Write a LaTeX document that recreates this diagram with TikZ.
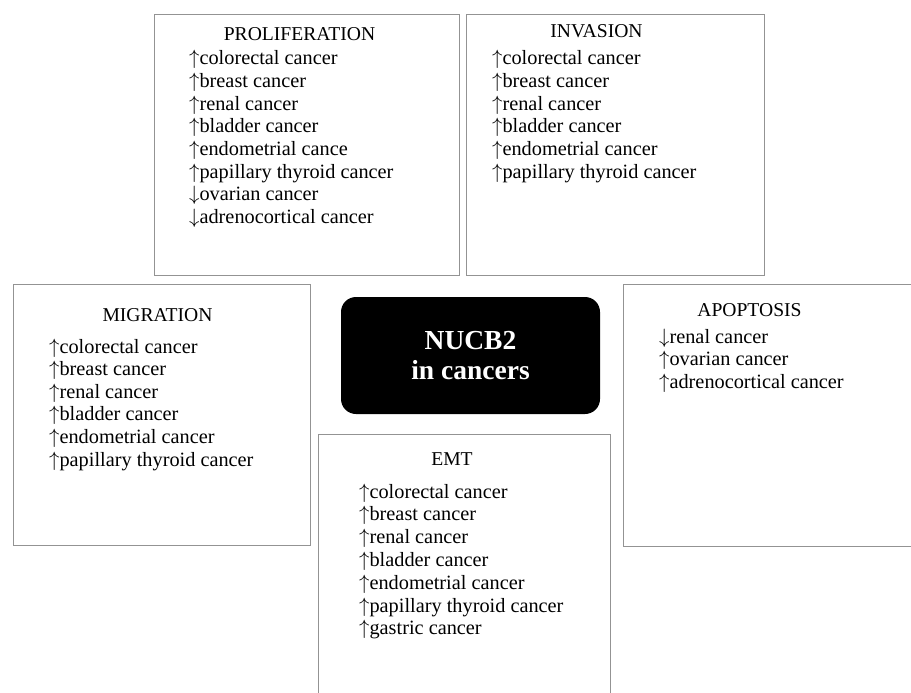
\documentclass[tikz,border=0pt]{standalone}
\usepackage{fontspec}
\setmainfont{Liberation Serif}
\newcommand\arup{$\uparrow$}
\newcommand\ardn{$\downarrow$}
\tikzset{
  panel/.style={draw=gray!85, line width=0.9pt, inner sep=0pt, anchor=north west},
  heading/.style={anchor=base, inner sep=0pt, font=\fontsize{19.6}{22.6}\selectfont},
  item/.style={anchor=base west, inner sep=0pt, font=\fontsize{20.3}{22.6}\selectfont},
  hub/.style={fill=black, text=white, rounded corners=15pt, inner sep=0pt,
    align=center, font=\fontsize{27.5}{30}\selectfont\bfseries}
}
\begin{document}
\begin{tikzpicture}[x=1pt,y=-1pt]
\useasboundingbox (0,0) rectangle (911,693);
% panels
\node[panel, minimum width=305, minimum height=261] (prolif) at (154,14) {};
\node[panel, minimum width=298, minimum height=261] (invas) at (466,14) {};
\node[panel, minimum width=297, minimum height=261] (migr) at (13,284) {};
\node[panel, minimum width=300, minimum height=262] (apop) at (623,284) {};
\node[panel, minimum width=292, minimum height=280] (emt) at (318,434) {};
% hub
\node[hub, minimum width=259, minimum height=117] (hub) at (470.5,355.5) {NUCB2\\in cancers};
% headings
\node[heading] (tprolif) at (299.5,40.5) {PROLIFERATION};
\node[heading] (tinvas) at (596.5,37.5) {INVASION};
\node[heading] (tmigr) at (157.5,321) {MIGRATION};
\node[heading] (tapop) at (749.5,316) {APOPTOSIS};
\node[heading] (temt) at (452,465) {EMT};
% items
\foreach \t [count=\i] in {{\arup colorectal cancer},{\arup breast cancer},{\arup renal cancer},{\arup bladder cancer},{\arup endometrial cance},{\arup papillary thyroid cancer},{\ardn ovarian cancer},{\ardn adrenocortical cancer}}
  \node[item] (p\i) at (189,{65+22.6*(\i-1)}) {\t};
\foreach \t [count=\i] in {{\arup colorectal cancer},{\arup breast cancer},{\arup renal cancer},{\arup bladder cancer},{\arup endometrial cancer},{\arup papillary thyroid cancer}}
  \node[item] (v\i) at (492,{65+22.6*(\i-1)}) {\t};
\foreach \t [count=\i] in {{\arup colorectal cancer},{\arup breast cancer},{\arup renal cancer},{\arup bladder cancer},{\arup endometrial cancer},{\arup papillary thyroid cancer}}
  \node[item] (m\i) at (49,{353+22.6*(\i-1)}) {\t};
\foreach \t [count=\i] in {{\ardn renal cancer},{\arup ovarian cancer},{\arup adrenocortical cancer}}
  \node[item] (a\i) at (659,{343+22.6*(\i-1)}) {\t};
\foreach \t [count=\i] in {{\arup colorectal cancer},{\arup breast cancer},{\arup renal cancer},{\arup bladder cancer},{\arup endometrial cancer},{\arup papillary thyroid cancer},{\arup gastric cancer}}
  \node[item] (e\i) at (359,{498+22.8*(\i-1)}) {\t};
\end{tikzpicture}
\end{document}
